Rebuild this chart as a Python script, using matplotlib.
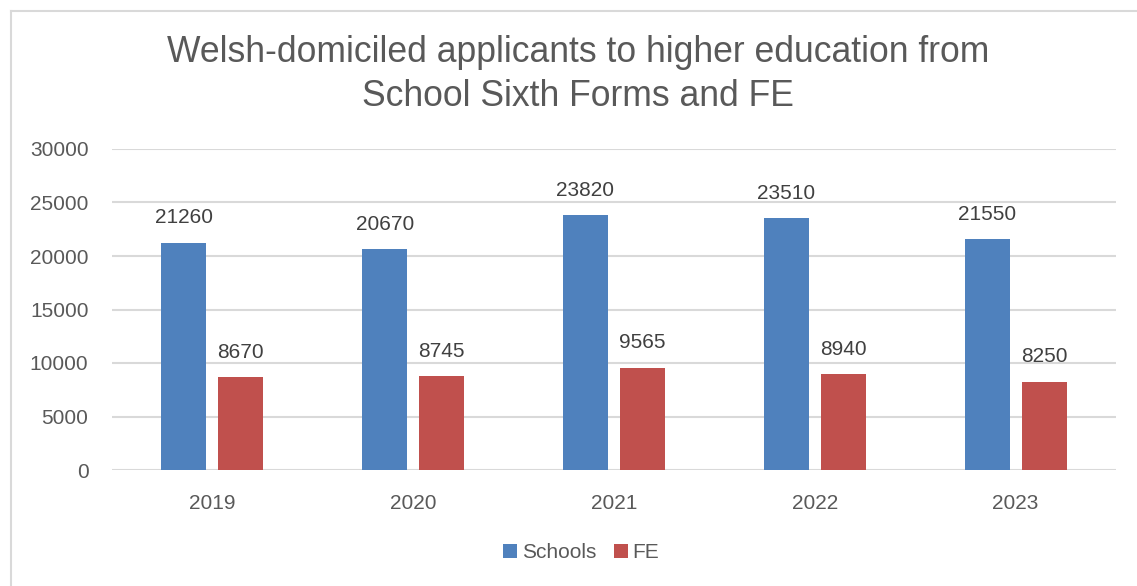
import matplotlib
matplotlib.use("Agg")
import matplotlib.pyplot as plt
from matplotlib.lines import Line2D
import numpy as np

# applicants by year
years = ["2019", "2020", "2021", "2022", "2023"]
schools = [21260, 20670, 23820, 23510, 21550]
fe = [8670, 8745, 9565, 8940, 8250]

blue = "#4F81BD"
red = "#C0504D"
text_clr = "#595959"
grid_clr = "#D9D9D9"

plt.rcParams['font.family'] = ['Liberation Sans', 'DejaVu Sans']

fig = plt.figure(figsize=(11.37, 5.86), dpi=100)
ax = fig.add_axes([112/1137, 1-470/586, (1116-112)/1137, (470-149)/586])

x = np.arange(len(years))
w = 0.224
off = 0.142
b1 = ax.bar(x - off, schools, w, color=blue, label="Schools", zorder=3)
b2 = ax.bar(x + off, fe, w, color=red, label="FE", zorder=3)

# value labels above bars
for bars, vals in ((b1, schools), (b2, fe)):
    for rect, v in zip(bars, vals):
        ax.annotate(str(v), (rect.get_x() + rect.get_width()/2, v),
                    xytext=(0, 11), textcoords="offset points",
                    ha="center", va="bottom", fontsize=15, color="#404040")

ax.set_xlim(-0.5, len(years) - 0.5)
ax.set_ylim(0, 30000)
ax.set_yticks(range(0, 30001, 5000))
ax.set_xticks(x)
ax.set_xticklabels(years)
ax.tick_params(axis="both", length=0, labelsize=15, labelcolor=text_clr)
ax.tick_params(axis="y", pad=17)
ax.tick_params(axis="x", pad=17)
ax.yaxis.grid(True, color=grid_clr, linewidth=1.5, zorder=0)
for s in ax.spines.values():
    s.set_visible(False)

fig.text(578/1137, 1-52/586, "Welsh-domiciled applicants to higher education from",
         ha="center", va="center", fontsize=25.6, color=text_clr)
fig.text(578/1137, 1-97/586, "School Sixth Forms and FE",
         ha="center", va="center", fontsize=25.6, color=text_clr)

ax.legend(loc="center", bbox_to_anchor=(581/1137, 1-553/586),
          bbox_transform=fig.transFigure, ncol=2, frameon=False,
          fontsize=15, labelcolor=text_clr, handlelength=0.68, handleheight=0.68,
          handletextpad=0.2, columnspacing=0.85)

# outer chart border (runs off the right and bottom edges)
fig.add_artist(Line2D([11/1137, 11/1137], [0, 1-11/586], color=grid_clr,
                      linewidth=1.5, transform=fig.transFigure))
fig.add_artist(Line2D([11/1137, 1], [1-11/586, 1-11/586], color=grid_clr,
                      linewidth=1.5, transform=fig.transFigure))

fig.savefig("out.png", dpi=100)
